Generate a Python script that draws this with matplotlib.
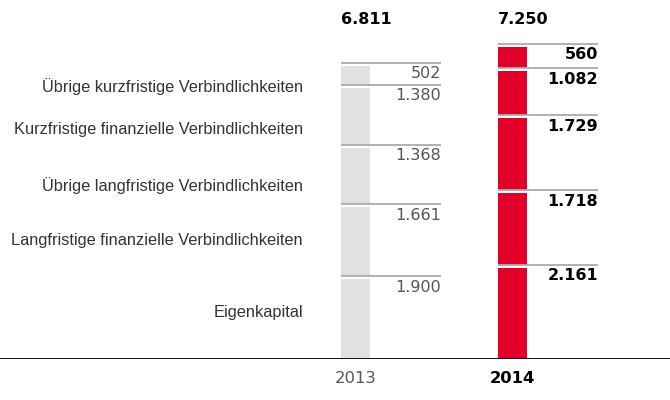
import matplotlib

matplotlib.use("Agg")
import matplotlib.pyplot as plt

# Passiva in Mio. EUR, bottom to top of each stack
categories = [
    "Eigenkapital",
    "Langfristige finanzielle Verbindlichkeiten",
    "Übrige langfristige Verbindlichkeiten",
    "Kurzfristige finanzielle Verbindlichkeiten",
    "Übrige kurzfristige Verbindlichkeiten",
]
years = ["2013", "2014"]
values_2013 = [1900, 1661, 1368, 1380, 502]
values_2014 = [2161, 1718, 1729, 1082, 560]
totals = [6811, 7250]
# y positions (in value units) of the category captions on the left
caption_y = [1080, 2720, 4000, 5290, 6280]

GREY = "#e1e1e1"
RED = "#e2002a"
RULE = "#ababab"
NUM_FONT = "DejaVu Sans"
TXT_FONT = "Liberation Sans"


def fmt(v):
    return f"{v:,}".replace(",", ".")


fig = plt.figure(figsize=(6.7, 4.0), dpi=100)
ax = fig.add_axes([0, 41 / 400, 1, 359 / 400])
scale = 315 / 7250  # px per unit
ymax = 359 / scale
ax.set_ylim(0, ymax)
ax.set_xlim(-2.264, 2.003)
ax.axis("off")

bar_w = 29 / 157
rule_len = 71 / 157
gap = 3 / scale

stacks = [values_2013, values_2014]
colors = [GREY, RED]
for i, (vals, col) in enumerate(zip(stacks, colors)):
    left = i - bar_w / 2
    right = left + bar_w + rule_len
    bottom = 0
    for v in vals:
        ax.bar(i, v - gap, bottom=bottom, width=bar_w, color=col, lw=0)
        top = bottom + v
        ax.plot([left, right], [top, top], color=RULE, lw=1.3,
                solid_capstyle="butt")
        ax.annotate(fmt(v), (right, top), xytext=(0, -7.8),
                    textcoords="offset points", ha="right", va="center",
                    fontsize=11.5, family=NUM_FONT,
                    color="#555555" if i == 0 else "black",
                    fontweight="normal" if i == 0 else "bold")
        bottom = top
    # totals sit on one common line above the stacks
    ax.text(left, ymax - 20 / scale, fmt(totals[i]), ha="left", va="center",
            fontsize=11.5, family=NUM_FONT, fontweight="bold", color="black")

ax.axhline(0, color="black", lw=1.3)

for name, y in zip(categories, caption_y):
    ax.text(-2.264 + 303 / 157, y, name, ha="right", va="center",
            fontsize=11.8, family=TXT_FONT, color="#333333")

for i, yr in enumerate(years):
    ax.annotate(yr, (i, 0), xytext=(0, -14), textcoords="offset points",
                ha="center", va="center", fontsize=11.8, family=NUM_FONT,
                color="#555555" if i == 0 else "black",
                fontweight="normal" if i == 0 else "bold")

fig.savefig("out.png", dpi=100)
